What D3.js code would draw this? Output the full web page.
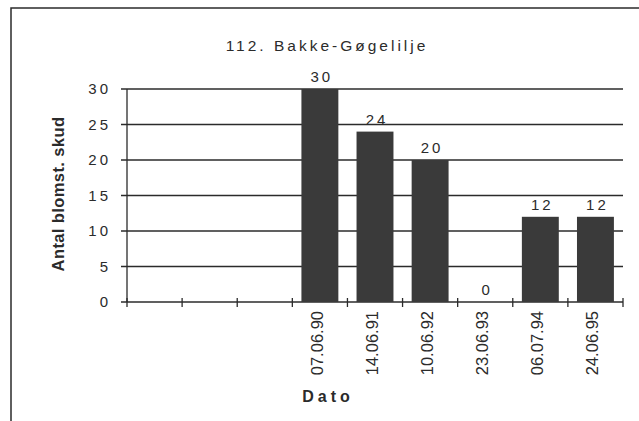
<!DOCTYPE html>
<html>
<head>
<meta charset="utf-8">
<script src="https://cdn.jsdelivr.net/npm/d3@7"></script>
<style>
  body { margin: 0; background: #fff; }
  svg { font-family: Arial, "Liberation Sans", sans-serif; }
</style>
</head>
<body>
<div id="vis"></div>
<script>
// categories (first three slots are empty in the original)
var dates = ['', ' ', '  ', '07.06.90', '14.06.91', '10.06.92', '23.06.93', '06.07.94', '24.06.95'];
var values = [null, null, null, 30, 24, 20, 0, 12, 12];
var yTicks = [0, 5, 10, 15, 20, 25, 30];

var width = 639;
var height = 421;
var margin = { top: 89, right: 16, bottom: 119, left: 127 };
var ink = '#2b2b2b';

var svg = d3.select('#vis')
  .append('svg')
  .attr('width', width)
  .attr('height', height);

// outer frame, only top and left edges show in the scan
svg.append('path')
  .attr('d', 'M11,421 V8 H639')
  .attr('fill', 'none')
  .attr('stroke', ink)
  .attr('stroke-width', 1.5);

var x = d3.scaleBand()
  .domain(dates)
  .range([margin.left, width - margin.right])
  .paddingInner(0.33)
  .paddingOuter(0.165);

var y = d3.scaleLinear()
  .domain([0, 30])
  .range([height - margin.bottom, margin.top]);

// gridlines
svg.append('g')
  .selectAll('line')
  .data(yTicks)
  .enter().append('line')
  .attr('x1', margin.left - 6)
  .attr('x2', width - margin.right)
  .attr('y1', function (d) { return y(d); })
  .attr('y2', function (d) { return y(d); })
  .attr('stroke', ink)
  .attr('stroke-width', 1.3);

// y axis line
svg.append('line')
  .attr('x1', margin.left).attr('x2', margin.left)
  .attr('y1', y(30)).attr('y2', y(0))
  .attr('stroke', ink)
  .attr('stroke-width', 1.3);

// y tick labels
svg.append('g')
  .selectAll('text')
  .data(yTicks)
  .enter().append('text')
  .attr('x', margin.left - 16)
  .attr('y', function (d) { return y(d); })
  .attr('dy', '0.36em')
  .attr('text-anchor', 'end')
  .style('letter-spacing', '3px')
  .style('font-size', '15px')
  .attr('fill', ink)
  .text(function (d) { return d; });

// x category boundary ticks, crossing the axis
var step = x.step();
var bounds = d3.range(dates.length + 1).map(function (i) { return margin.left + i * step; });
svg.append('g')
  .selectAll('line')
  .data(bounds)
  .enter().append('line')
  .attr('x1', function (d) { return d; })
  .attr('x2', function (d) { return d; })
  .attr('y1', y(0) - 4)
  .attr('y2', y(0) + 5)
  .attr('stroke', ink)
  .attr('stroke-width', 1.3);

var data = dates.map(function (d, i) { return { date: d, value: values[i] }; })
  .filter(function (d) { return d.value !== null; });

// bars
svg.append('g')
  .selectAll('rect')
  .data(data)
  .enter().append('rect')
  .attr('x', function (d) { return x(d.date); })
  .attr('width', x.bandwidth())
  .attr('y', function (d) { return y(d.value); })
  .attr('height', function (d) { return y(0) - y(d.value); })
  .attr('fill', '#3a3a3a');

// value labels
svg.append('g')
  .selectAll('text')
  .data(data)
  .enter().append('text')
  .attr('x', function (d) { return x(d.date) + x.bandwidth() / 2 + 2; })
  .attr('y', function (d) { return y(d.value) - 7; })
  .attr('text-anchor', 'middle')
  .style('letter-spacing', '3px')
  .style('font-size', '15px')
  .attr('fill', ink)
  .text(function (d) { return d.value; });

// date labels, rotated
svg.append('g')
  .selectAll('text')
  .data(data)
  .enter().append('text')
  .attr('transform', function (d) {
    return 'translate(' + (x(d.date) + x.bandwidth() / 2 + 3) + ',' + (y(0) + 9) + ') rotate(-90)';
  })
  .attr('text-anchor', 'end')
  .style('font-size', '16.5px')
  .attr('fill', ink)
  .text(function (d) { return d.date; });

// title
svg.append('text')
  .attr('x', 327)
  .attr('y', 51)
  .attr('text-anchor', 'middle')
  .style('font-size', '15.5px')
  .style('letter-spacing', '3px')
  .attr('fill', ink)
  .text('112. Bakke-Gøgelilje');

// axis titles
svg.append('text')
  .attr('x', 328)
  .attr('y', 402)
  .attr('text-anchor', 'middle')
  .style('font-size', '16px')
  .style('font-weight', 'bold')
  .style('letter-spacing', '4px')
  .attr('fill', ink)
  .text('Dato');

svg.append('text')
  .attr('transform', 'translate(64,' + 194 + ') rotate(-90)')
  .attr('text-anchor', 'middle')
  .style('font-size', '16.5px')
  .style('font-weight', 'bold')
  .style('letter-spacing', '0.4px')
  .attr('fill', ink)
  .text('Antal blomst. skud');
</script>
</body>
</html>
